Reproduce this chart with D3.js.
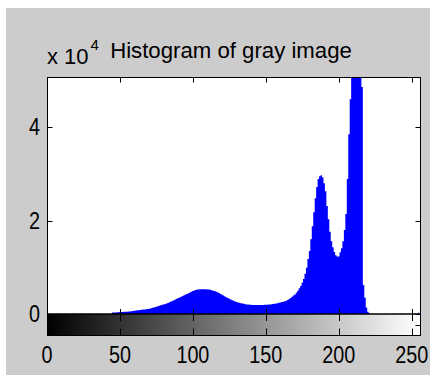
<!DOCTYPE html>
<html>
<head>
<meta charset="utf-8">
<script src="https://cdn.jsdelivr.net/npm/d3@7"></script>
<style>
  body { margin: 0; background: #fff; }
  text { font-family: "Liberation Sans", Arial, sans-serif; fill: #000; }
</style>
</head>
<body>
<svg width="437" height="377"></svg>
<script>
// gray levels 0..255 and pixel counts
const levels = d3.range(256);
const counts = [
  400, 0, 0, 0, 0, 0, 0, 0, 0, 0,
  0, 0, 0, 0, 0, 0, 0, 0, 0, 0,
  0, 0, 0, 0, 0, 0, 0, 0, 0, 0,
  0, 0, 0, 0, 0, 0, 0, 0, 0, 0,
  0, 0, 0, 0, 0, 300, 320, 340, 360, 400,
  430, 440, 450, 470, 490, 500, 520, 560, 600, 650,
  700, 740, 780, 820, 860, 900, 940, 980, 1000, 1060,
  1120, 1200, 1300, 1380, 1460, 1540, 1640, 1760, 1860, 1960,
  2060, 2160, 2260, 2380, 2520, 2660, 2780, 2920, 3080, 3240,
  3420, 3560, 3700, 3860, 4000, 4160, 4300, 4450, 4600, 4760,
  4900, 5050, 5150, 5220, 5260, 5280, 5300, 5300, 5300, 5280,
  5260, 5220, 5180, 5100, 5000, 4900, 4780, 4640, 4480, 4300,
  4120, 3940, 3760, 3600, 3420, 3250, 3100, 2960, 2820, 2700,
  2590, 2480, 2400, 2320, 2240, 2170, 2110, 2060, 2020, 1990,
  1970, 1950, 1940, 1930, 1930, 1930, 1930, 1940, 1950, 1960,
  1980, 2000, 2030, 2060, 2100, 2150, 2200, 2260, 2320, 2400,
  2480, 2560, 2640, 2740, 2860, 3000, 3200, 3450, 3700, 3950,
  4200, 4550, 5000, 5500, 6000, 6700, 7500, 8600, 9900, 11800,
  13500, 16000, 18800, 21800, 24800, 27200, 28900, 29500, 29700, 29300,
  28000, 26300, 23100, 20300, 17600, 15600, 14300, 13300, 12600, 12300,
  12300, 13200, 14100, 15600, 18000, 21400, 28900, 38500, 46000, 56000,
  62000, 66000, 68000, 67000, 63000, 57000, 48600, 6200, 3500, 1400,
  500, 200, 0, 0, 0, 0, 0, 0, 0, 0,
  0, 0, 0, 0, 0, 0, 0, 0, 0, 0,
  0, 0, 0, 0, 0, 0, 0, 0, 0, 0,
  0, 0, 0, 0, 0, 300
];
const xTicks = [0, 50, 100, 150, 200, 250];
const yTicks = [0, 20000, 40000];
const yTickLabels = ["0", "2", "4"];
const title = "Histogram of gray image";

const svg = d3.select("svg");

// figure background
svg.append("rect").attr("x", 6).attr("y", 8).attr("width", 424).attr("height", 367)
  .attr("fill", "#cccccc");

const pLeft = 47.5, pRight = 420.5, pTop = 77.5, pBottom = 314, cbBottom = 335.5;

const x = d3.scaleLinear().domain([0, 255]).range([47, 419]);
const y = d3.scaleLinear().domain([0, 50750]).range([pBottom, pTop - 0.5]);

// plot area
svg.append("rect").attr("x", pLeft).attr("y", pTop).attr("width", pRight - pLeft)
  .attr("height", pBottom - pTop).attr("fill", "#fff");

svg.append("clipPath").attr("id", "clip")
  .append("rect").attr("x", pLeft).attr("y", pTop).attr("width", pRight - pLeft)
  .attr("height", pBottom - pTop);

const area = d3.area()
  .x((d, i) => x(levels[i]))
  .y0(y(0))
  .y1(d => y(d))
  .curve(d3.curveStep);

svg.append("path")
  .datum(counts)
  .attr("clip-path", "url(#clip)")
  .attr("fill", "#0000ff")
  .attr("d", area);

// colorbar
const grad = svg.append("defs").append("linearGradient").attr("id", "gray")
  .attr("gradientUnits", "userSpaceOnUse")
  .attr("x1", x(0)).attr("x2", x(255)).attr("y1", 0).attr("y2", 0);
grad.append("stop").attr("offset", 0).attr("stop-color", "#000");
grad.append("stop").attr("offset", 1).attr("stop-color", "#fff");

svg.append("rect").attr("x", pLeft).attr("y", pBottom).attr("width", pRight - pLeft)
  .attr("height", cbBottom - pBottom).attr("fill", "url(#gray)");

// frames
const frames = svg.append("g").attr("fill", "none").attr("stroke", "#000")
  .attr("stroke-width", 1);
frames.append("rect").attr("x", pLeft).attr("y", pTop).attr("width", pRight - pLeft)
  .attr("height", pBottom - pTop);
frames.append("rect").attr("x", pLeft).attr("y", pBottom).attr("width", pRight - pLeft)
  .attr("height", cbBottom - pBottom);

// ticks
const ticks = svg.append("g").attr("stroke", "#000").attr("stroke-width", 1);
xTicks.forEach(t => {
  const tx = Math.round(x(t)) + 0.5;
  ticks.append("line").attr("x1", tx).attr("x2", tx).attr("y1", pTop).attr("y2", pTop + 5);
  ticks.append("line").attr("x1", tx).attr("x2", tx).attr("y1", pBottom).attr("y2", pBottom - 5);
  ticks.append("line").attr("x1", tx).attr("x2", tx).attr("y1", pBottom).attr("y2", pBottom + 7);
  ticks.append("line").attr("x1", tx).attr("x2", tx).attr("y1", cbBottom).attr("y2", cbBottom - 7);
});
yTicks.forEach(t => {
  const ty = Math.round(y(t)) + 0.5;
  ticks.append("line").attr("x1", pLeft).attr("x2", pLeft + 5).attr("y1", ty).attr("y2", ty);
  ticks.append("line").attr("x1", pRight).attr("x2", pRight - 5).attr("y1", ty).attr("y2", ty);
});
const cbMid = Math.round((pBottom + cbBottom) / 2) + 0.5;
ticks.append("line").attr("x1", pRight).attr("x2", pRight - 5).attr("y1", cbMid).attr("y2", cbMid);
ticks.append("line").attr("x1", pLeft).attr("x2", pLeft + 5).attr("y1", cbMid).attr("y2", cbMid);

// tick labels
svg.append("g").selectAll("text").data(xTicks).join("text")
  .attr("transform", d => `translate(${x(d)},363) scale(0.86,1)`)
  .attr("text-anchor", "middle")
  .style("font-size", "23px")
  .text(d => d);

svg.append("g").selectAll("text").data(yTicks).join("text")
  .attr("transform", d => `translate(40,${y(d) + 8}) scale(0.86,1)`)
  .attr("text-anchor", "end")
  .style("font-size", "23px")
  .text((d, i) => yTickLabels[i]);

// exponent and title
const ex = svg.append("text").attr("x", 47).attr("y", 64)
  .style("font-size", "22px");
ex.append("tspan").text("x 10");
ex.append("tspan").attr("dx", 2).attr("dy", -14).style("font-size", "15px").text("4");

svg.append("text").attr("x", 231).attr("y", 58)
  .attr("text-anchor", "middle").style("font-size", "22.2px").text(title);
</script>
</body>
</html>
